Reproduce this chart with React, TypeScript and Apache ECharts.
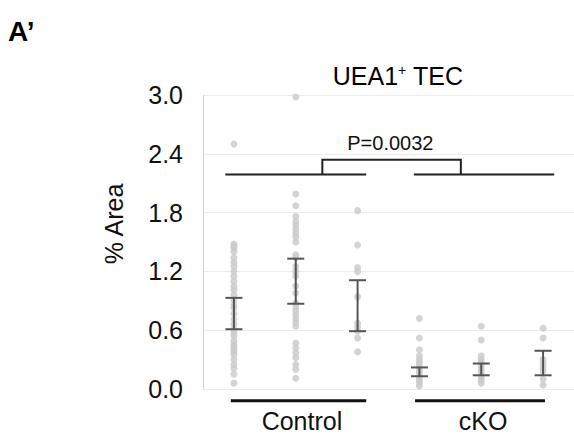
import React, { useEffect, useRef } from "react";
import * as echarts from "echarts";

const yTicks = [0, 0.6, 1.2, 1.8, 2.4, 3.0];
const groupNames = ["Control", "cKO"];

const col1 = [2.50, 1.48, 1.46, 1.44, 1.40, 1.34, 1.29, 1.25, 1.20, 1.15, 1.10, 1.05, 1.01, 0.96, 0.91, 0.86, 0.83, 0.77, 0.71, 0.66, 0.61, 0.57, 0.54, 0.49, 0.45, 0.43, 0.40, 0.38, 0.35, 0.30, 0.25, 0.21, 0.15, 0.06];
const col2 = [2.98, 1.99, 1.87, 1.76, 1.71, 1.67, 1.63, 1.59, 1.55, 1.50, 1.37, 1.34, 1.25, 1.20, 1.15, 1.05, 0.98, 0.88, 0.84, 0.80, 0.76, 0.72, 0.68, 0.64, 0.47, 0.42, 0.37, 0.32, 0.25, 0.20, 0.11];
const col3 = [1.82, 1.47, 1.24, 1.20, 0.94, 0.67, 0.63, 0.59, 0.52, 0.38];
const col4 = [0.72, 0.52, 0.40, 0.34, 0.30, 0.27, 0.24, 0.21, 0.18, 0.15, 0.12, 0.09, 0.06, 0.03];
const col5 = [0.64, 0.50, 0.34, 0.30, 0.27, 0.24, 0.21, 0.18, 0.15, 0.12, 0.09, 0.06];
const col6 = [0.62, 0.52, 0.30, 0.26, 0.22, 0.18, 0.10, 0.04];
const columns = [col1, col2, col3, col4, col5, col6];

const errLow = [0.61, 0.87, 0.59, 0.13, 0.14, 0.14];
const errHigh = [0.93, 1.33, 1.11, 0.22, 0.26, 0.39];

// comparison bracket annotation (data coordinates)
const topLines = [[0.86, 3.14, 2.19], [3.91, 6.18, 2.19]];
const bracket = [[2.43, 2.19], [2.43, 2.34], [4.67, 2.34], [4.67, 2.19]];
const pLabel = { x: 3.53, y: 2.51, text: "P=0.0032" };
const bottomLines = [[0.95, 3.14, -0.12], [3.93, 6.03, -0.12]];
const groupLabelPos = [[2.1, -0.33], [5.03, -0.33]];

const FONT = "'Liberation Sans', Arial, Helvetica, sans-serif";

export default function App() {
  const ref = useRef<HTMLDivElement>(null);
  useEffect(() => {
    if (!ref.current) return;
    const chart = echarts.init(ref.current, null, { renderer: "svg" });
    const scatterData: number[][] = [];
    columns.forEach((c, i) => c.forEach((v) => scatterData.push([i + 1, v])));
    const errData = errLow.map((l, i) => [i + 1, l, errHigh[i]]);

    chart.setOption({
      animation: false,
      grid: { left: 203, right: 0, top: 95, bottom: 47 },
      xAxis: {
        type: "value",
        min: 0.5,
        max: 6.5,
        show: false,
      },
      yAxis: {
        type: "value",
        min: 0,
        max: 3,
        interval: 0.6,
        axisLine: { show: true, lineStyle: { color: "#d4d4d4", width: 1 } },
        axisTick: { show: false },
        splitLine: { show: true, lineStyle: { color: "#ececec", width: 1 } },
        axisLabel: {
          formatter: (v: number) => v.toFixed(1),
          fontSize: 25,
          color: "#111",
          fontFamily: FONT,
          margin: 20,
        },
      },
      graphic: [
        {
          type: "text",
          left: 8,
          top: 17,
          style: { text: "A’", font: `bold 28px ${FONT}`, fill: "#000" },
        },
        {
          type: "text",
          x: 398,
          y: 76,
          style: {
            text: "{a|UEA1}{s|+}{a| TEC}",
            align: "center",
            verticalAlign: "middle",
            rich: {
              a: { fontSize: 25, fontFamily: FONT, fill: "#000", color: "#000" },
              s: { fontSize: 14, fontFamily: FONT, fill: "#000", color: "#000", verticalAlign: "top", padding: [0, 0, 12, 0] },
            },
          },
        },
        {
          type: "text",
          x: 114,
          y: 224,
          rotation: Math.PI / 2,
          style: {
            text: "% Area",
            font: `25px ${FONT}`,
            fill: "#111",
            align: "center",
            verticalAlign: "middle",
          },
        },
      ],
      series: [
        {
          type: "scatter",
          data: scatterData,
          symbolSize: 7,
          itemStyle: { color: "#c9c9c9" },
          silent: true,
          z: 2,
        },
        {
          type: "custom",
          data: errData,
          z: 3,
          renderItem: (params: any, api: any) => {
            const x = api.value(0);
            const lo = api.coord([x, api.value(1)]);
            const hi = api.coord([x, api.value(2)]);
            const w = 8.5;
            const st = { stroke: "#555", lineWidth: 2 };
            return {
              type: "group",
              children: [
                { type: "line", shape: { x1: lo[0], y1: lo[1], x2: hi[0], y2: hi[1] }, style: st },
                { type: "line", shape: { x1: lo[0] - w, y1: lo[1], x2: lo[0] + w, y2: lo[1] }, style: st },
                { type: "line", shape: { x1: hi[0] - w, y1: hi[1], x2: hi[0] + w, y2: hi[1] }, style: st },
              ],
            };
          },
        },
        {
          type: "custom",
          data: topLines,
          clip: false,
          z: 3,
          renderItem: (params: any, api: any) => {
            const a = api.coord([api.value(0), api.value(2)]);
            const b = api.coord([api.value(1), api.value(2)]);
            return {
              type: "line",
              shape: { x1: a[0], y1: a[1], x2: b[0], y2: b[1] },
              style: { stroke: "#222", lineWidth: 2 },
            };
          },
        },
        {
          type: "custom",
          data: [0],
          clip: false,
          z: 3,
          renderItem: (params: any, api: any) => {
            const pts = bracket.map((p) => api.coord(p));
            const pc = api.coord([pLabel.x, pLabel.y]);
            return {
              type: "group",
              children: [
                { type: "polyline", shape: { points: pts }, style: { stroke: "#222", lineWidth: 2, fill: null } },
                {
                  type: "text",
                  x: pc[0],
                  y: pc[1],
                  style: { text: pLabel.text, fontSize: 20, fontFamily: FONT, fill: "#111", align: "center", verticalAlign: "middle" },
                },
              ],
            };
          },
        },
        {
          type: "custom",
          data: bottomLines,
          clip: false,
          z: 3,
          renderItem: (params: any, api: any) => {
            const i = params.dataIndex;
            const a = api.coord([api.value(0), api.value(2)]);
            const b = api.coord([api.value(1), api.value(2)]);
            const lp = api.coord(groupLabelPos[i]);
            return {
              type: "group",
              children: [
                { type: "line", shape: { x1: a[0], y1: a[1], x2: b[0], y2: b[1] }, style: { stroke: "#111", lineWidth: 3 } },
                {
                  type: "text",
                  x: lp[0],
                  y: lp[1],
                  style: { text: groupNames[i], fontSize: 25, fontFamily: FONT, fill: "#111", align: "center", verticalAlign: "middle" },
                },
              ],
            };
          },
        },
      ],
    });
    return () => chart.dispose();
  }, []);
  return <div ref={ref} style={{ width: 574, height: 436, position: "absolute", left: 0, top: 0 }} />;
}
